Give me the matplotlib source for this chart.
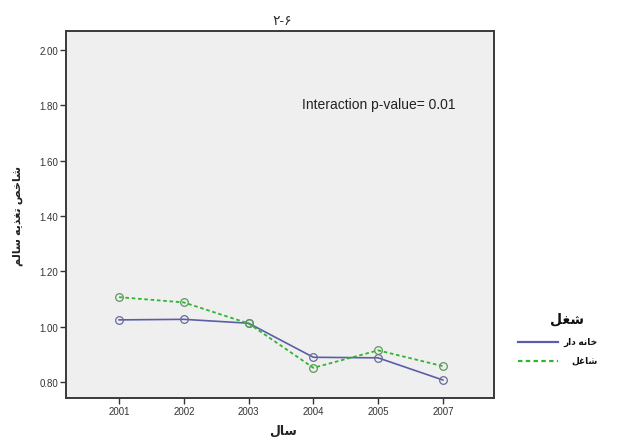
import matplotlib
matplotlib.use('Agg')
import matplotlib.pyplot as plt
from matplotlib.lines import Line2D

plt.rcParams['font.family'] = ['Liberation Sans', 'DejaVu Sans']

# Survey years and mean index per occupation group
years = ['2001', '2002', '2003', '2004', '2005', '2007']
housewife = [1.025, 1.027, 1.013, 0.890, 0.888, 0.808]
employed = [1.107, 1.088, 1.012, 0.852, 0.915, 0.858]

y_ticks = [0.80, 1.00, 1.20, 1.40, 1.60, 1.80, 2.00]

# Arabic script labels written in presentation forms, left-to-right visual order
title_txt = '\u06F2-\u06F6'
xlabel_txt = '\uFEDD\uFE8E\uFEB3'
ylabel_txt = '\uFEE2\uFEDF\uFE8E\uFEB3 \uFEEA\uFEF3\uFEAC\uFED0\uFE97 \uFEBA\uFEA7\uFE8E\uFEB7'
legend_title = '\uFEDE\uFED0\uFEB7'
housewife_lbl = '\uFEAD\uFE8D\uFEA9 \uFEEA\uFEE7\uFE8E\uFEA7'
employed_lbl = '\uFEDE\uFECF\uFE8E\uFEB7'

blue = '#5b5ea6'
green = '#2fb52f'
dots = (0, (2, 1.5))

fig = plt.figure(figsize=(6.22, 4.39), dpi=100)
W, H = 622, 439
ax = fig.add_axes([66 / W, 1 - 399 / H, (494 - 66) / W, (399 - 31.7) / H])
ax.set_facecolor('#efefef')

x = list(range(len(years)))
ax.plot(x, housewife, color=blue, lw=1.2, marker='o', ms=5.5,
        mfc='none', mec='#6a6a9a', mew=0.9)
ax.plot(x, employed, color=green, lw=1.3, ls=dots, marker='o', ms=5.5,
        mfc='none', mec='#5a9a5a', mew=0.9)

ax.set_xlim(-0.82, 5.79)
ax.set_ylim(0.743, 2.069)
ax.set_xticks(x)
ax.set_xticklabels(years)
ax.set_yticks(y_ticks)
ax.set_yticklabels([f'{v:.2f}' for v in y_ticks])
ax.tick_params(axis='both', direction='out', length=4, width=1.0,
               color='#333333', labelsize=7, labelcolor='#333333', pad=1.5)

for s in ax.spines.values():
    s.set_color('#3a3a3a')
    s.set_linewidth(1.4)

ax.text(0.909, 0.80, 'Interaction p-value= 0.01', transform=ax.transAxes,
        ha='right', va='center', fontsize=10, color='#222222')

fig.text(282 / W, 1 - 21 / H, title_txt, ha='center', va='center',
         fontsize=10, color='#333333')
fig.text(283 / W, 1 - 432 / H, xlabel_txt, ha='center', va='center',
         fontsize=9, fontweight='bold', color='#222222')
fig.text(18 / W, 1 - 216 / H, ylabel_txt, ha='center', va='center',
         rotation=90, fontsize=8, fontweight='bold', color='#222222')

# legend drawn by hand so the Arabic labels sit right-aligned next to the keys
fig.text(584 / W, 1 - 319 / H, legend_title, ha='right', va='center',
         fontsize=10, fontweight='bold', color='#111111')
legend_rows = [(housewife_lbl, blue, '-', 343), (employed_lbl, green, dots, 362)]
for lbl, col, style, ypx in legend_rows:
    fig.add_artist(Line2D([518 / W, 558 / W], [1 - ypx / H, 1 - ypx / H],
                          color=col, lw=1.6, ls=style, transform=fig.transFigure))
    fig.text(598 / W, 1 - (ypx - 1) / H, lbl, ha='right', va='center',
             fontsize=6.5, fontweight='bold', color='#111111')

fig.savefig('out.png', dpi=100, facecolor='white')
